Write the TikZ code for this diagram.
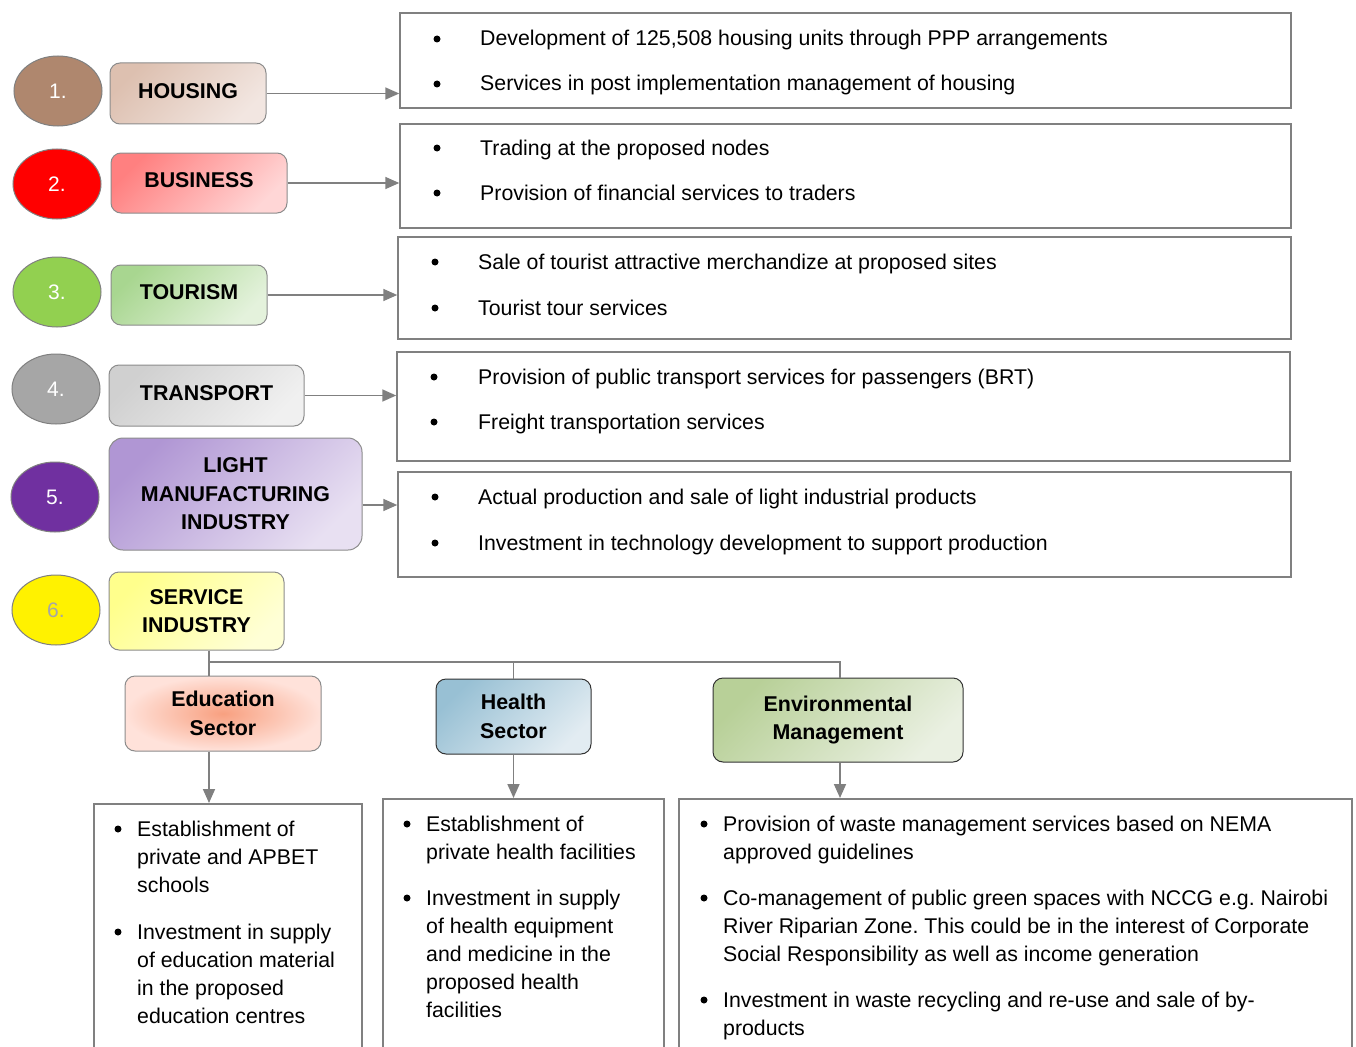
\documentclass[tikz,border=0pt]{standalone}
\usepackage{fontspec}
\setmainfont{Liberation Sans}
\usetikzlibrary{shapes.geometric,arrows.meta,calc}
\frenchspacing
\definecolor{lgrey}{HTML}{808080}
\definecolor{bgrey}{HTML}{8C8C8C}
\definecolor{sixgrey}{HTML}{A6A6A6}
\tikzset{
  x=1pt,y=-1pt,
  num/.style={ellipse,draw=lgrey,line width=1pt,minimum width=88,minimum height=70,inner sep=0,
     text=white,font=\fontsize{21}{24}\selectfont},
  lab/.style={draw=bgrey,line width=1pt,rounded corners=10,inner sep=0,align=center,
     font=\fontsize{21.4}{28.5}\selectfont\bfseries},
  rbox/.style={draw=lgrey,line width=1.5pt,inner sep=0},
  sbox/.style={draw=lgrey,line width=1.5pt,inner sep=0,anchor=north},
  bul/.style={circle,fill=black,inner sep=0,minimum size=7},
  txt/.style={anchor=base west,inner sep=0,align=left,font=\fontsize{21.3}{28}\selectfont\frenchspacing},
  arr/.style={draw=lgrey,line width=1.7pt,-{Triangle[length=14,width=12]}},
  ln/.style={draw=lgrey,line width=1.7pt},
}
\begin{document}
\begin{tikzpicture}
\useasboundingbox (0,0) rectangle (1356,1046);
\fill[white] (0,0) rectangle (1356,1046);
% number ellipses
\node[num,fill={rgb,255:red,175;green,135;blue,110}] (n1) at (58,91) {1.};
\node[num,fill=red] (n2) at (57,184) {2.};
\node[num,fill={rgb,255:red,146;green,208;blue,80}] (n3) at (57,292) {3.};
\node[num,fill={rgb,255:red,166;green,166;blue,166}] (n4) at (56,389) {4.};
\node[num,fill={rgb,255:red,112;green,48;blue,160}] (n5) at (55,497) {5.};
\node[num,fill=yellow,text=sixgrey] (n6) at (56,610) {6.};
% label boxes
\node[lab,minimum width=156,minimum height=61,text depth=5,top color={rgb,255:red,221;green,192;blue,176},bottom color={rgb,255:red,242;green,230;blue,225},shading angle=45] (hous) at (188,93.5) {HOUSING};
\node[lab,minimum width=176,minimum height=60,text depth=5,top color={rgb,255:red,255;green,128;blue,128},bottom color={rgb,255:red,255;green,214;blue,214},shading angle=45] (bus) at (199,183) {BUSINESS};
\node[lab,minimum width=156,minimum height=60,text depth=5,top color={rgb,255:red,168;green,214;blue,144},bottom color={rgb,255:red,228;green,242;blue,220},shading angle=45] (tour) at (189,295) {TOURISM};
\node[lab,minimum width=195,minimum height=61,text depth=5,top color={rgb,255:red,208;green,208;blue,208},bottom color={rgb,255:red,240;green,240;blue,240},shading angle=45] (trans) at (206.5,395.5) {TRANSPORT};
\node[lab,rounded corners=14,minimum width=253,minimum height=112,top color={rgb,255:red,176;green,150;blue,212},bottom color={rgb,255:red,232;green,224;blue,242},shading angle=45] (light) at (235.5,494) {LIGHT\\MANUFACTURING\\INDUSTRY};
\node[lab,minimum width=175,minimum height=78,top color={rgb,255:red,255;green,255;blue,140},bottom color={rgb,255:red,255;green,255;blue,214},shading angle=45] (svc) at (196.5,611) {SERVICE\\INDUSTRY};
% right boxes
\node[rbox,minimum width=891,minimum height=95] (r1) at (845.5,60.5) {};
\node[rbox,minimum width=891,minimum height=104] (r2) at (845.5,176) {};
\node[rbox,minimum width=893,minimum height=102] (r3) at (844.5,288) {};
\node[rbox,minimum width=893,minimum height=109] (r4) at (843.5,406.5) {};
\node[rbox,minimum width=893,minimum height=105] (r5) at (844.5,524.5) {};
% bullets in right boxes
\node[bul] (b11) at (437,39) {}; \node[txt] (t11) at (480,46) {Development of 125,508 housing units through PPP arrangements};
\node[bul] (b12) at (437,84) {}; \node[txt] (t12) at (480,91) {Services in post implementation management of housing};
\node[bul] (b21) at (437,148) {}; \node[txt] (t21) at (480,155) {Trading at the proposed nodes};
\node[bul] (b22) at (437,193) {}; \node[txt] (t22) at (480,200) {Provision of financial services to traders};
\node[bul] (b31) at (435,262) {}; \node[txt] (t31) at (478,269) {Sale of tourist attractive merchandize at proposed sites};
\node[bul] (b32) at (435,308) {}; \node[txt] (t32) at (478,315) {Tourist tour services};
\node[bul] (b41) at (434,377) {}; \node[txt] (t41) at (478,384) {Provision of public transport services for passengers (BRT)};
\node[bul] (b42) at (434,422) {}; \node[txt] (t42) at (478,429) {Freight transportation services};
\node[bul] (b51) at (435,497) {}; \node[txt] (t51) at (478,504) {Actual production and sale of light industrial products};
\node[bul] (b52) at (435,543) {}; \node[txt] (t52) at (478,550) {Investment in technology development to support production};
% arrows right
\draw[arr] (hous.east) -- (hous.east -| r1.west);
\draw[arr] (bus.east) -- (bus.east -| r2.west);
\draw[arr] (tour.east) -- (tour.east -| r3.west);
\draw[arr] (trans.east) -- (trans.east -| r4.west);
\coordinate (l5) at ($(light.east)+(0,11)$);
\draw[arr] (l5) -- (l5 -| r5.west);
% sector boxes
\node[lab,minimum width=196,minimum height=75,inner color={rgb,255:red,248;green,160;blue,128},outer color={rgb,255:red,255;green,226;blue,218}] (edu) at (223,713.5) {Education\\Sector};
\node[lab,draw=black!80,minimum width=155,minimum height=75,top color={rgb,255:red,152;green,192;blue,212},bottom color={rgb,255:red,226;green,236;blue,242},shading angle=45] (hlth) at (513.5,716.5) {Health\\Sector};
\node[lab,draw=black!80,minimum width=250,minimum height=84,top color={rgb,255:red,184;green,208;blue,152},bottom color={rgb,255:red,234;green,240;blue,226},shading angle=45] (env) at (838,720) {Environmental\\Management};
% tree lines
\coordinate (jn) at (209,662);
\coordinate (je) at (840,662);
\draw[ln] (jn |- svc.south) -- (jn |- edu.north);
\draw[ln] (jn) -- (je) -- (je |- env.north);
\draw[ln] (hlth.north) -- (hlth.north |- jn);
% bottom boxes
\node[sbox,minimum width=268,minimum height=300] (eb) at (228,803) {};
\node[sbox,minimum width=281,minimum height=300] (hb) at (523.5,798) {};
\node[sbox,minimum width=673,minimum height=300] (evb) at (1015.5,798) {};
\draw[arr] (jn |- edu.south) -- (jn |- eb.north);
\draw[arr] (hlth.south) -- (hlth.south |- hb.north);
\draw[arr] (je |- env.south) -- (je |- evb.north);
% bottom texts (anchor = baseline of last line)
\node[bul] (eb1) at (118,829) {};
\node[txt] (et1) at (137,892) {Establishment of\\private and APBET\\schools};
\node[bul] (eb2) at (118,932) {};
\node[txt] (et2) at (137,1023) {Investment in supply\\of education material\\in the proposed\\education centres};
\node[bul] (hb1) at (407,824) {};
\node[txt] (ht1) at (426,859) {Establishment of\\private health facilities};
\node[bul] (hb2) at (407,898) {};
\node[txt] (ht2) at (426,1017) {Investment in supply\\of health equipment\\and medicine in the\\proposed health\\facilities};
\node[bul] (vb1) at (704,824) {};
\node[txt] (vt1) at (723,859) {Provision of waste management services based on NEMA\\approved guidelines};
\node[bul] (vb2) at (704,898) {};
\node[txt] (vt2) at (723,961) {Co-management of public green spaces with NCCG e.g. Nairobi\\River Riparian Zone. This could be in the interest of Corporate\\Social Responsibility as well as income generation};
\node[bul] (vb3) at (704,1000) {};
\node[txt] (vt3) at (723,1035) {Investment in waste recycling and re-use and sale of by-\\products};
\end{tikzpicture}
\end{document}
